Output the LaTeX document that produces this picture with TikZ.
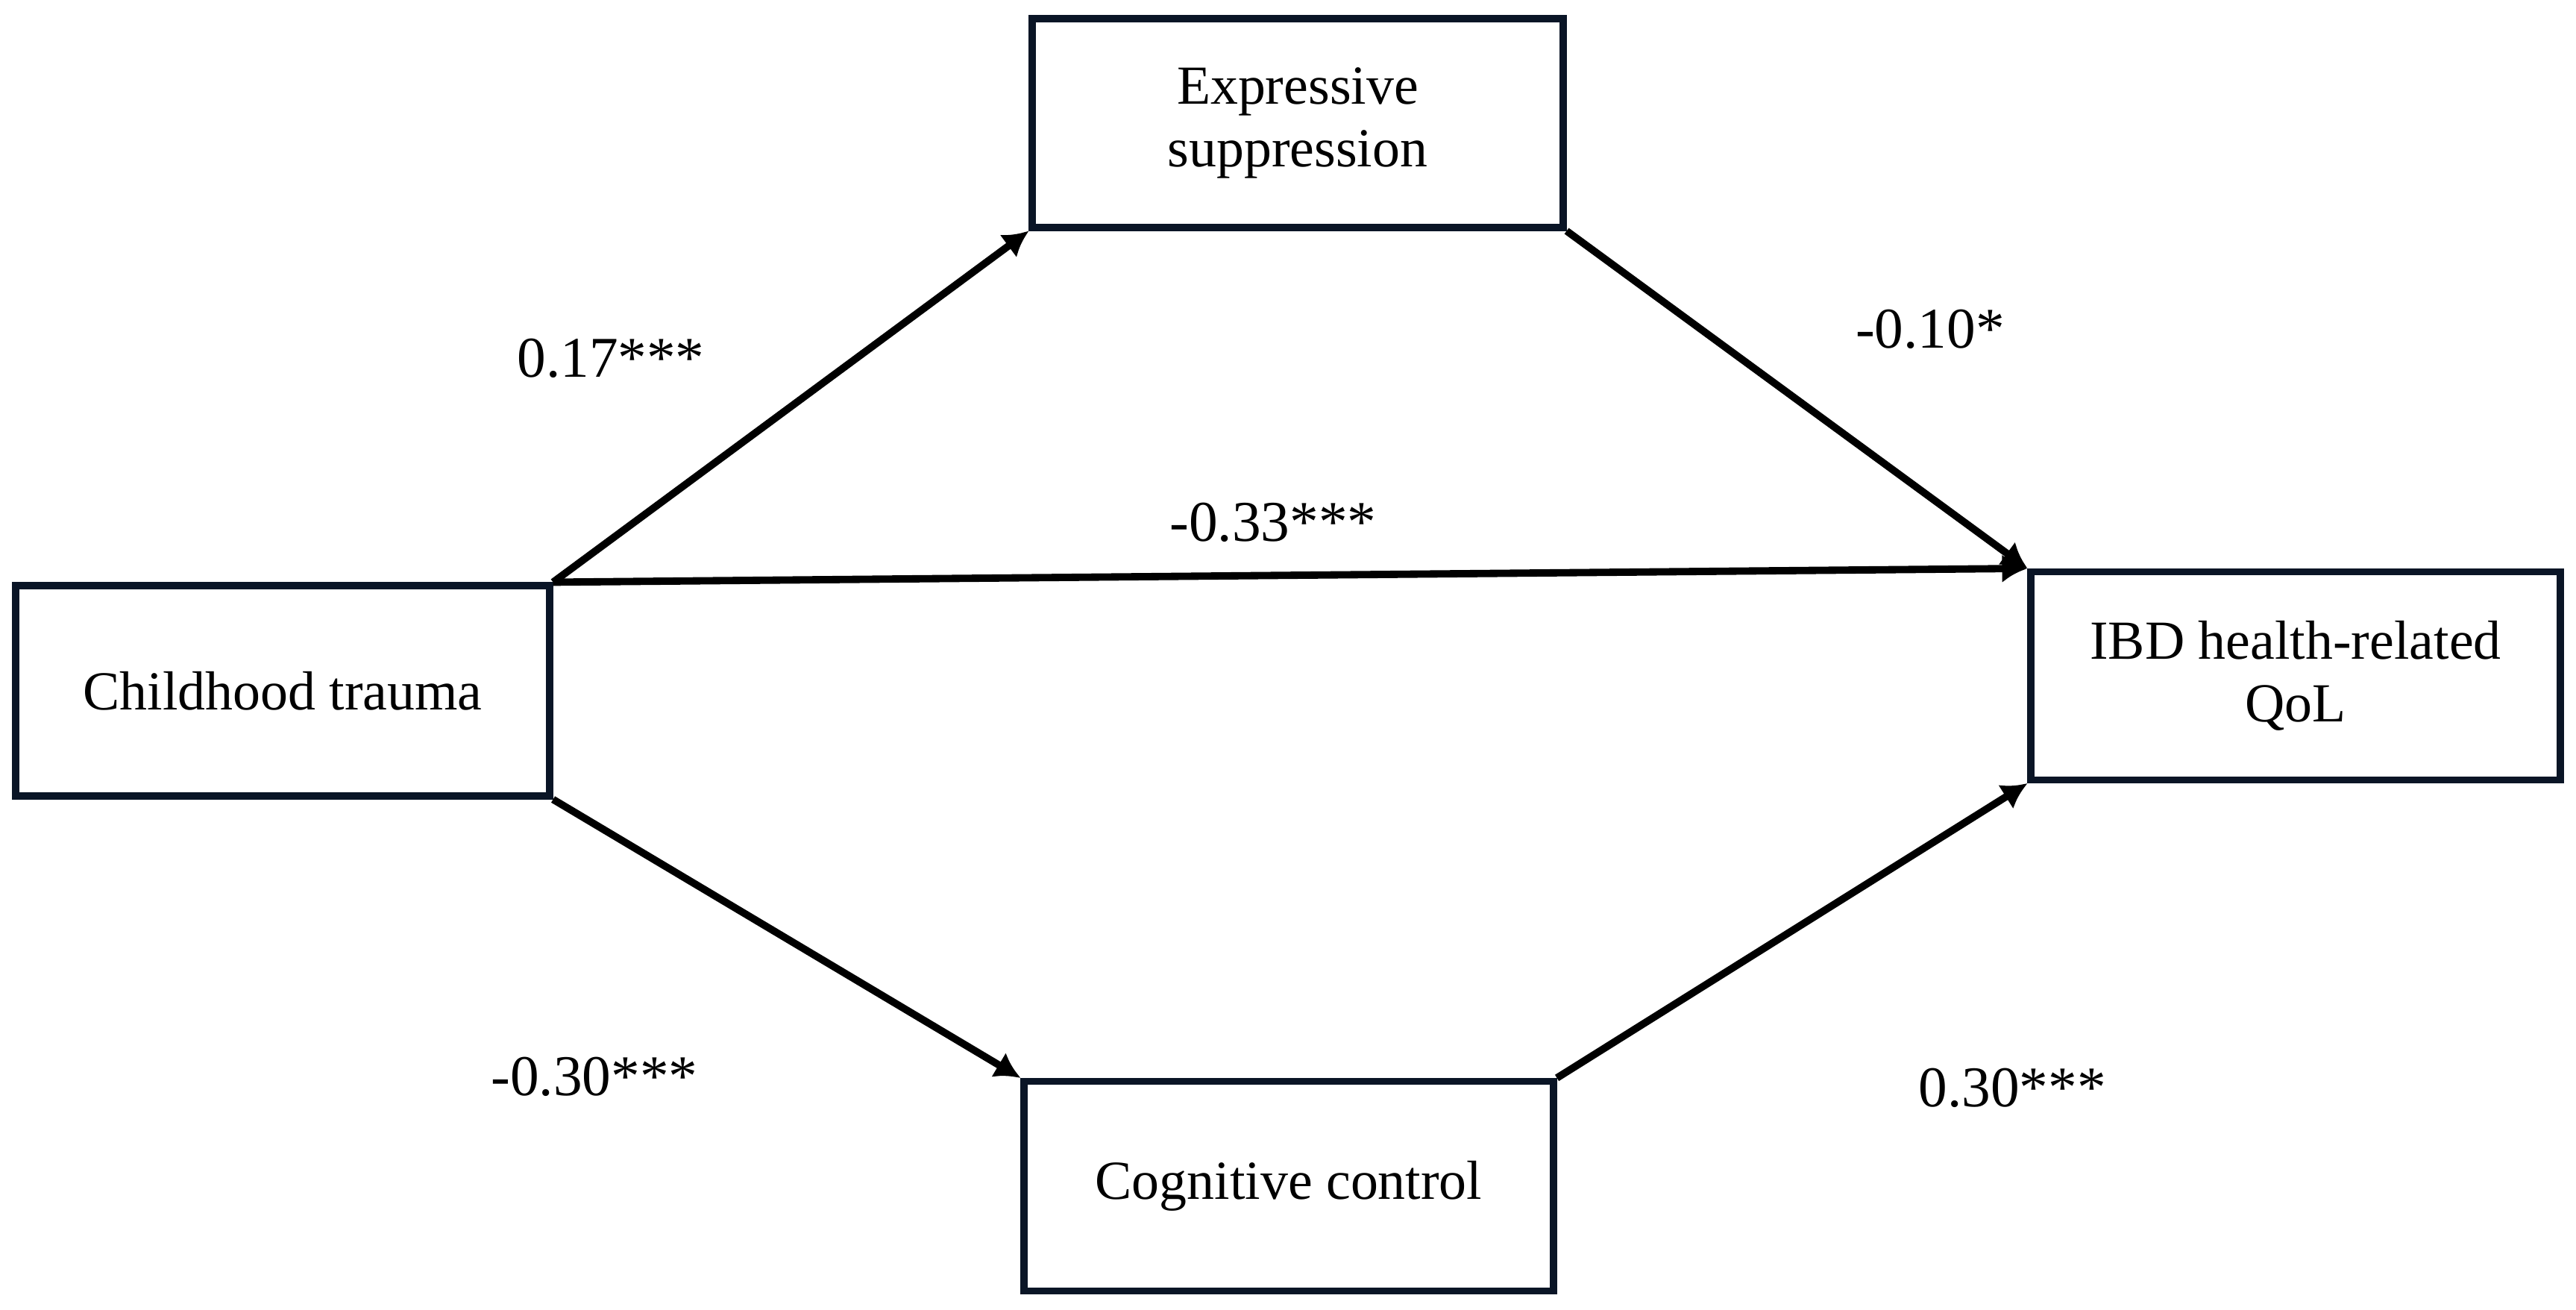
\documentclass[tikz,border=0pt]{standalone}
\usepackage{fontspec}
\setmainfont{Liberation Serif}
\usetikzlibrary{arrows.meta}
\definecolor{boxline}{HTML}{0A1526}
\tikzset{
  varbox/.style={draw=boxline, line width=2.6pt, fill=white, align=center,
    font=\fontsize{21}{24}\selectfont, inner sep=0pt},
  path/.style={draw=black, line width=2.8pt,
    -{Latex[length=0.34cm,width=0.38cm]}},
  coef/.style={font=\fontsize{22}{24}\selectfont, inner sep=0pt}
}
\begin{document}
\begin{tikzpicture}
\useasboundingbox (0,0) rectangle (34.54,-17.56);
\node[varbox, minimum width=7.16cm, minimum height=2.82cm] (ct) at (3.79,-9.26) {Childhood trauma};
\node[varbox, minimum width=7.12cm, minimum height=2.80cm] (es) at (17.40,-1.65) {Expressive\\suppression};
\node[varbox, minimum width=7.10cm, minimum height=2.79cm] (qol) at (30.78,-9.06) {IBD health-related\\QoL};
\node[varbox, minimum width=7.10cm, minimum height=2.81cm] (cc) at (17.28,-15.90) {Cognitive control};

\draw[path] (ct.north east) -- (es.south west);
\draw[path] (ct.north east) -- (qol.north west);
\draw[path] (es.south east) -- (qol.north west);
\draw[path] (ct.south east) -- (cc.north west);
\draw[path] (cc.north east) -- (qol.south west);

\node[coef] (a1) at (8.19,-4.80) {0.17***};
\node[coef] (b1) at (25.88,-4.41) {-0.10*};
\node[coef] (c1) at (17.07,-7.00) {-0.33***};
\node[coef] (a2) at (7.97,-14.43) {-0.30***};
\node[coef] (b2) at (26.98,-14.58) {0.30***};
\end{tikzpicture}
\end{document}
